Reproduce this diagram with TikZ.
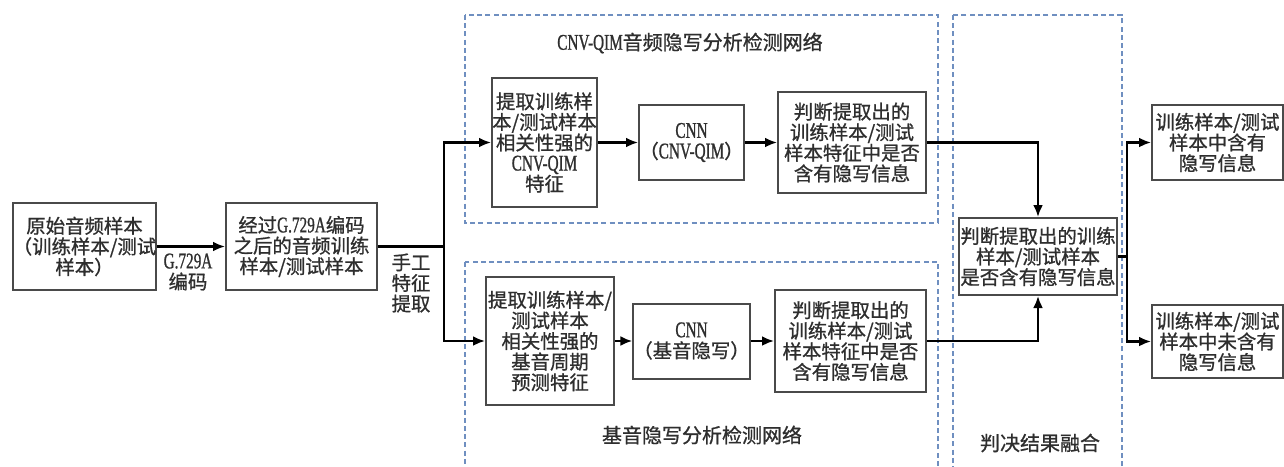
\documentclass[tikz,border=0pt]{standalone}
\usepackage{fontspec}
\setmainfont{Noto Sans CJK SC}[FakeBold=0.9]
\newfontfamily\latf[FakeStretch=0.68,FakeBold=0.9]{Liberation Serif}
\newcommand\lt[1]{{\latf\fontsize{11.2pt}{10.3pt}\selectfont #1}}
\usetikzlibrary{arrows.meta}
\definecolor{boxc}{HTML}{4A4A4A}
\definecolor{dashc}{HTML}{6F8FC0}
\definecolor{txtc}{HTML}{2E2E2E}
\tikzset{
  box/.style={draw=boxc, line width=1pt, fill=white, inner sep=0pt, align=center, text=txtc,
    font=\fontsize{9.7pt}{10.3pt}\selectfont},
  lbl/.style={inner sep=0pt, align=center, text=txtc, font=\fontsize{9.7pt}{10.3pt}\selectfont},
  ttl/.style={inner sep=0pt, align=center, text=txtc, font=\fontsize{10pt}{11pt}\selectfont},
  arr/.style={line width=1.2pt, -{Latex[length=6pt,width=5pt]}},
  ln/.style={line width=1.2pt},
  grp/.style={draw=dashc, line width=0.8pt, dash pattern=on 2.5pt off 1.6pt}
}
\begin{document}
\begin{tikzpicture}[x=0.5pt,y=-0.5pt]
\useasboundingbox (0,0) rectangle (1284,466);
% group frames
\draw[grp] (465,15) rectangle (938,223);
\draw[grp] (465,262) rectangle (938,480);
\draw[grp] (953,15) rectangle (1122,480);
\node[ttl] (t1) at (690,43) {\lt{CNV-QIM}音频隐写分析检测网络};
\node[ttl] (t2) at (702,435) {基音隐写分析检测网络};
\node[ttl] (t3) at (1040,443) {判决结果融合};
% nodes
\node[box, minimum width=70.5pt, minimum height=43.5pt] (b1) at (84.5,246.5) {原始音频样本\\（训练样本/测试\\样本）};
\node[box, minimum width=75.5pt, minimum height=43.5pt] (b2) at (301.5,246.5) {经过\lt{G.729A}编码\\之后的音频训练\\样本/测试样本};
\node[box, minimum width=52.5pt, minimum height=64.5pt] (a1) at (544.5,142.5) {提取训练样\\本/测试样本\\相关性强的\\\lt{CNV-QIM}\\特征};
\node[box, minimum width=52.5pt, minimum height=37.5pt] (a2) at (691.5,142.5) {\lt{CNN}\\（\lt{CNV-QIM}）};
\node[box, minimum width=74pt, minimum height=50.5pt] (a3) at (852,142.5) {判断提取出的\\训练样本/测试\\样本特征中是否\\含有隐写信息};
\node[box, minimum width=64pt, minimum height=64pt] (c1) at (550,341) {提取训练样本/\\测试样本\\相关性强的\\基音周期\\预测特征};
\node[box, minimum width=52.5pt, minimum height=37.5pt] (c2) at (691.5,341) {\lt{CNN}\\（基音隐写）};
\node[box, minimum width=75.5pt, minimum height=51pt] (c3) at (850.5,341) {判断提取出的\\训练样本/测试\\样本特征中是否\\含有隐写信息};
\node[box, minimum width=79pt, minimum height=38.5pt] (f) at (1038,256.5) {判断提取出的训练\\样本/测试样本\\是否含有隐写信息};
\node[box, minimum width=65.5pt, minimum height=37.5pt] (r1) at (1217.5,142.5) {训练样本/测试\\样本中含有\\隐写信息};
\node[box, minimum width=65.5pt, minimum height=36.5pt] (r2) at (1217.5,341.5) {训练样本/测试\\样本中未含有\\隐写信息};
% labels
\node[lbl] (l1) at (188,272) {\lt{G.729A}\\编码};
\node[lbl] (l2) at (411,283) {手工\\特征\\提取};
% connectors
\coordinate (sp) at (444,246.5);
\coordinate (sp2) at (1127,256.5);
\draw[arr] (b1) -- (b2);
\draw[ln] (b2.east) -- (sp);
\draw[arr] (sp) |- (a1.west);
\draw[arr] (sp) |- (c1.west);
\draw[arr] (a1) -- (a2);
\draw[arr] (a2) -- (a3);
\draw[arr] (c1) -- (c2);
\draw[arr] (c2) -- (c3);
\draw[arr] (a3.east) -| (f.north);
\draw[arr] (c3.east) -| (f.south);
\draw[ln] (f.east) -- (sp2);
\draw[arr] (sp2) |- (r1.west);
\draw[arr] (sp2) |- (r2.west);
\end{tikzpicture}
\end{document}
